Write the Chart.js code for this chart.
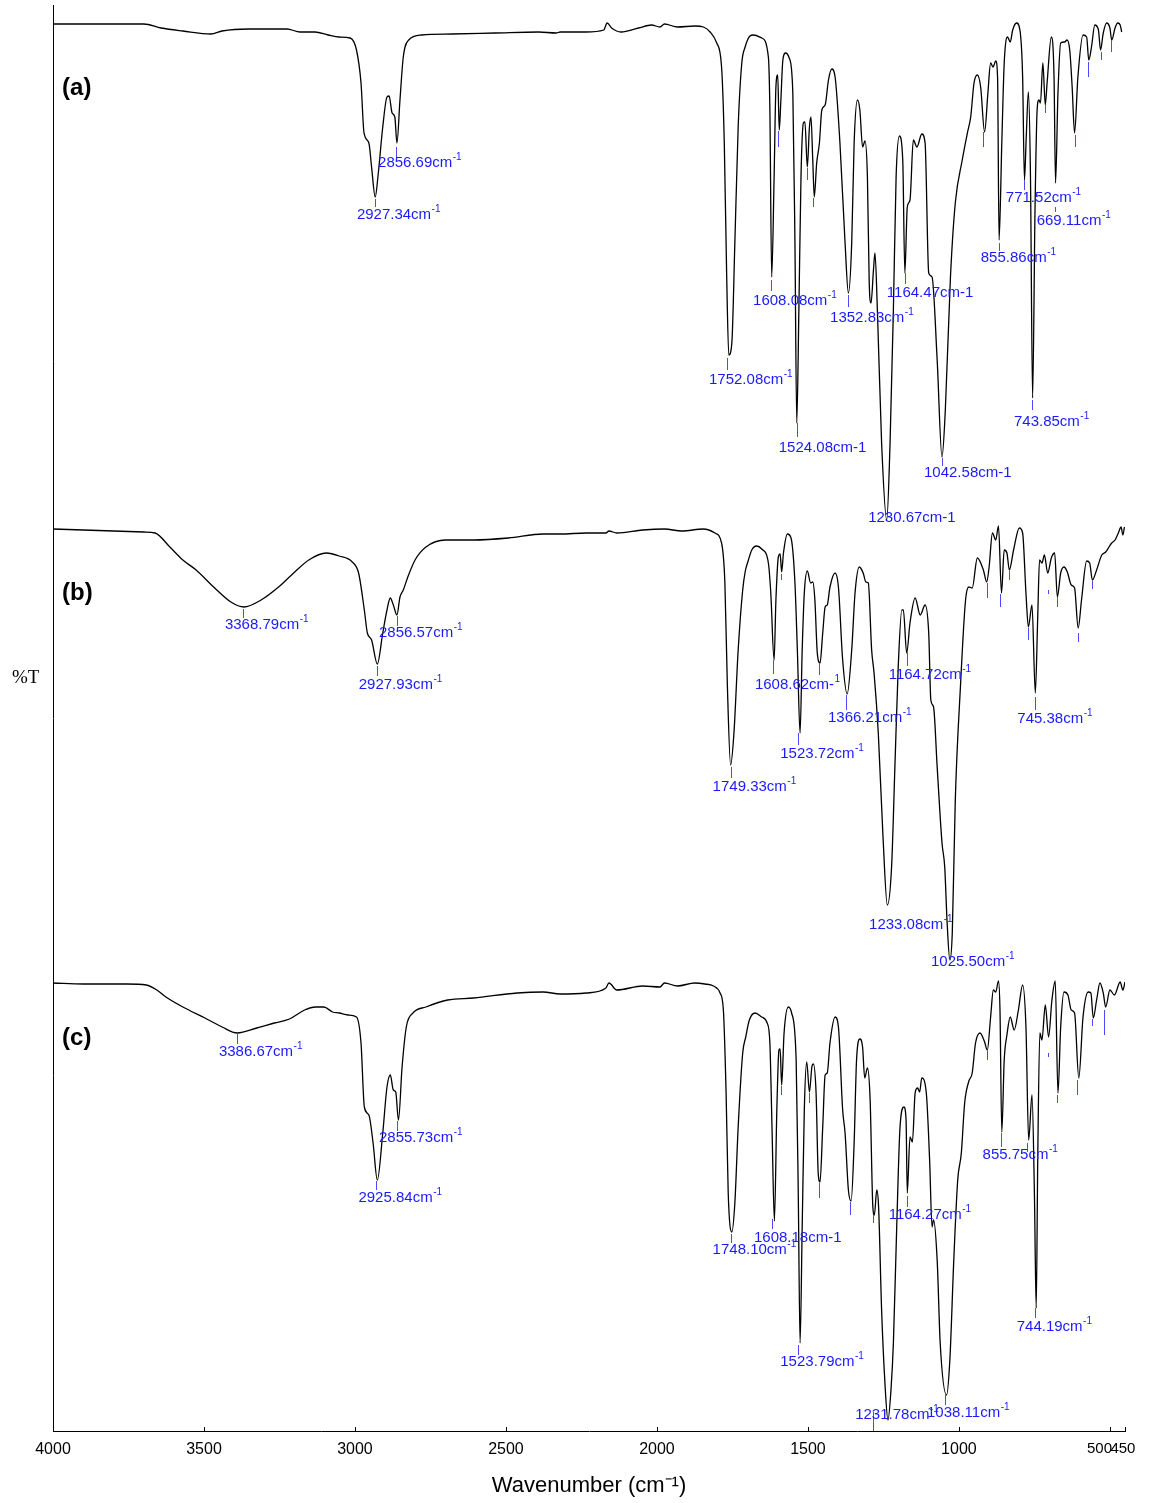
<!DOCTYPE html>
<html>
<head>
<meta charset="utf-8">
<title>FTIR spectra (a) (b) (c)</title>
<script src="https://cdn.jsdelivr.net/npm/chart.js@4.4.1/dist/chart.umd.min.js"></script>
<style>
  html, body { margin: 0; padding: 0; background: #fff; }
  #wrap { width: 1152px; height: 1503px; position: relative; }
</style>
</head>
<body>
<div id="wrap"><canvas id="irChart"></canvas></div>
<script>
// x ticks of the wavenumber axis (cm-1)
const xTicks = [4000, 3500, 3000, 2500, 2000, 1500, 1000, 500, 450];

// spectra, [wavenumber, %T], stacked on one offset %T scale (0 - 142.6)
const spectrumA = [
  [4000,140.7],[3699,140.7],[3642,140.3],[3570,140.0],[3477,139.7],[3440,140.0],[3354,140.2],[3225,140.2],[3182,139.9],[3132,139.9],
  [3089,139.6],[3053,139.4],[3016,139.3],[2995,138.1],[2980,134.8],[2970,129.8],[2954,128.8],[2945,126.4],[2933,123.4],[2924,125.4],
  [2908,130.4],[2894,133.4],[2887,133.5],[2877,131.8],[2868,131.4],[2861,128.8],[2851,133.1],[2840,137.4],[2822,139.1],[2779,139.6],
  [2679,139.7],[2536,139.8],[2392,139.9],[2334,139.8],[2320,139.9],[2235,139.9],[2176,140.1],[2165,140.8],[2150,140.3],[2119,139.9],
  [2061,140.3],[2018,140.6],[1990,140.4],[1975,140.7],[1932,140.4],[1874,140.5],[1846,140.4],[1824,139.9],[1802,138.8],[1786,136.4],
  [1777,128.8],[1769,115.4],[1762,107.6],[1752,108.8],[1742,118.8],[1731,130.4],[1719,136.8],[1708,138.4],[1692,139.5],[1681,139.6],
  [1653,139.3],[1631,137.4],[1626,132.1],[1620,115.4],[1612,125.4],[1606,134.4],[1600,135.6],[1595,130.1],[1590,132.8],[1583,137.1],
  [1574,137.8],[1562,137.3],[1550,133.8],[1543,118.8],[1537,100.8],[1530,112.1],[1523,125.4],[1515,130.8],[1510,130.9],[1502,126.4],
  [1495,130.4],[1490,131.4],[1484,127.1],[1479,123.4],[1471,126.8],[1462,128.8],[1454,132.1],[1443,132.6],[1432,135.1],[1421,136.2],
  [1410,135.4],[1394,128.8],[1377,118.8],[1366,113.8],[1355,118.8],[1347,128.8],[1336,133.1],[1328,132.1],[1319,128.4],[1311,129.0],
  [1303,125.4],[1297,114.8],[1291,112.8],[1283,116.1],[1278,117.8],[1270,112.1],[1256,98.8],[1239,91.1],[1228,98.8],[1217,112.1],
  [1208,125.4],[1197,129.5],[1186,127.1],[1179,115.8],[1171,122.4],[1162,123.1],[1151,129.1],[1139,128.4],[1123,129.7],[1112,128.8],
  [1100,115.8],[1089,115.4],[1072,107.1],[1056,97.4],[1045,102.1],[1028,115.4],[1012,122.8],[989,127.1],[972,129.8],[961,131.4],
  [950,134.8],[939,135.6],[928,134.4],[915,129.9],[904,133.8],[895,136.8],[887,136.4],[878,137.0],[872,135.4],[867,119.1],
  [858,128.8],[850,136.8],[839,139.4],[830,138.9],[822,140.1],[809,140.8],[798,140.1],[789,135.4],[783,125.1],[777,129.4],
  [770,133.9],[763,125.4],[756,103.3],[748,122.1],[741,132.1],[735,133.1],[730,132.8],[722,136.8],[714,132.6],[708,134.8],
  [694,139.4],[685,135.4],[680,124.8],[672,133.8],[663,138.8],[650,138.9],[642,139.1],[633,138.1],[625,134.4],[617,129.8],
  [606,135.4],[589,139.6],[577,139.4],[570,137.1],[561,138.4],[550,140.6],[538,140.1],[531,138.1],[522,139.8],[511,140.8],
  [500,140.3],[494,139.1],[483,140.3],[474,140.8],[466,140.6],[461,139.9]
];

const spectrumB = [
  [4000,90.2],[3699,89.9],[3662,89.8],[3613,88.4],[3570,87.1],[3526,86.1],[3468,84.4],[3411,82.9],[3368,82.4],[3311,83.1],
  [3253,84.4],[3210,85.6],[3153,87.1],[3095,87.8],[3052,87.5],[3009,86.9],[2988,85.8],[2969,82.1],[2959,79.8],[2945,79.1],
  [2926,76.7],[2908,79.8],[2894,82.1],[2883,83.3],[2873,82.6],[2861,81.6],[2851,83.4],[2840,84.1],[2825,85.4],[2801,87.1],
  [2765,88.4],[2700,89.1],[2607,89.1],[2492,89.3],[2377,89.7],[2320,89.7],[2234,89.8],[2169,89.8],[2159,90.0],[2133,89.8],
  [2047,90.1],[1975,90.2],[1918,90.0],[1846,90.2],[1808,89.8],[1786,88.8],[1775,84.8],[1767,74.8],[1756,66.6],[1745,69.8],
  [1731,78.1],[1716,84.1],[1708,85.9],[1697,87.1],[1686,88.1],[1670,88.5],[1653,88.2],[1631,86.8],[1623,83.8],[1612,77.1],
  [1606,83.1],[1598,87.4],[1592,87.7],[1587,85.9],[1581,87.8],[1568,89.7],[1556,89.3],[1543,84.8],[1535,78.1],[1526,69.8],
  [1519,78.1],[1512,83.8],[1502,86.0],[1491,84.8],[1484,84.9],[1477,83.1],[1469,77.8],[1460,76.8],[1451,79.8],[1443,82.4],
  [1436,82.6],[1427,84.4],[1410,85.8],[1399,84.4],[1385,77.1],[1370,73.7],[1355,78.1],[1344,83.8],[1330,86.4],[1317,85.8],
  [1308,84.9],[1300,84.8],[1289,78.1],[1281,75.8],[1267,69.8],[1252,59.8],[1237,52.6],[1223,56.4],[1212,66.4],[1201,76.4],
  [1189,82.1],[1184,82.1],[1173,77.8],[1162,80.8],[1145,83.3],[1128,81.6],[1112,82.6],[1100,79.8],[1093,73.1],[1084,72.4],
  [1072,66.4],[1056,58.8],[1047,56.4],[1039,50.8],[1030,47.1],[1022,49.8],[1012,63.1],[995,74.4],[978,83.1],[967,84.4],
  [956,84.3],[939,87.3],[919,86.1],[908,84.9],[900,86.4],[889,89.8],[878,89.1],[869,90.5],[859,83.8],[850,88.1],
  [841,87.8],[833,86.1],[819,88.1],[800,90.3],[789,89.8],[778,83.8],[770,80.4],[758,82.6],[747,73.8],[739,81.4],
  [733,87.1],[725,86.8],[717,87.6],[706,85.8],[694,87.3],[683,87.8],[674,83.4],[663,85.8],[652,86.4],[641,85.9],
  [628,84.6],[617,84.3],[605,80.3],[594,83.1],[577,87.0],[567,86.8],[558,85.1],[544,86.1],[527,87.6],[514,87.9],
  [503,88.4],[494,88.8],[483,89.1],[472,89.8],[463,90.4],[457,89.6],[452,90.4]
];

const spectrumC = [
  [4000,44.8],[3899,44.7],[3756,44.7],[3691,44.6],[3656,44.1],[3626,43.4],[3570,42.4],[3497,41.3],[3440,40.4],[3390,39.8],
  [3325,40.3],[3267,40.8],[3217,41.2],[3167,42.1],[3131,42.4],[3103,42.4],[3074,41.9],[3052,41.8],[3023,41.6],[2995,41.4],
  [2980,38.8],[2969,32.4],[2954,31.6],[2940,28.8],[2926,25.1],[2908,29.8],[2894,34.4],[2883,35.6],[2873,34.1],[2865,33.9],
  [2856,31.1],[2844,36.4],[2830,40.4],[2808,41.8],[2765,42.4],[2693,43.1],[2607,43.3],[2463,43.8],[2377,43.9],[2320,43.7],
  [2234,43.8],[2169,44.3],[2159,44.8],[2133,44.1],[2047,44.5],[1990,44.4],[1975,44.8],[1932,44.5],[1875,44.8],[1841,44.7],
  [1813,44.5],[1791,43.8],[1780,42.1],[1771,33.8],[1764,23.8],[1752,19.9],[1742,22.8],[1731,30.4],[1716,37.8],[1706,39.4],
  [1694,41.1],[1675,41.8],[1653,41.4],[1635,40.8],[1626,38.8],[1619,30.4],[1611,21.0],[1603,32.1],[1596,38.1],[1592,38.2],
  [1587,34.6],[1579,39.8],[1565,42.4],[1554,41.8],[1539,37.1],[1532,23.8],[1526,8.8],[1519,20.4],[1512,32.1],[1504,36.9],
  [1495,33.9],[1487,36.4],[1482,36.7],[1473,33.8],[1466,25.8],[1460,24.9],[1451,30.4],[1443,35.6],[1436,35.8],[1427,38.8],
  [1410,41.4],[1399,40.4],[1385,32.1],[1377,29.8],[1366,24.1],[1357,23.0],[1347,28.8],[1339,37.1],[1328,39.2],[1319,38.4],
  [1312,35.3],[1303,36.3],[1294,33.1],[1285,22.4],[1280,21.6],[1272,24.1],[1266,22.4],[1256,12.1],[1245,4.8],[1235,1.1],
  [1225,4.1],[1217,8.8],[1206,20.4],[1195,30.4],[1182,32.4],[1175,31.1],[1171,23.8],[1162,29.4],[1154,28.9],[1145,33.8],
  [1137,34.3],[1130,33.9],[1123,35.3],[1108,33.8],[1097,27.1],[1089,20.4],[1084,21.1],[1072,17.1],[1062,8.8],[1041,3.6],
  [1030,7.1],[1017,17.1],[1004,25.1],[992,27.8],[981,32.8],[967,35.0],[956,35.8],[945,38.8],[930,39.8],[915,38.9],
  [906,38.1],[895,41.4],[886,44.1],[878,43.9],[869,45.0],[864,42.1],[858,29.9],[850,37.1],[841,39.6],[830,41.4],
  [817,40.1],[803,42.1],[789,44.6],[778,40.4],[769,29.1],[758,33.6],[750,23.8],[744,12.3],[739,27.1],[732,39.8],
  [725,39.1],[714,42.6],[703,39.4],[692,43.1],[681,45.0],[672,33.8],[663,40.4],[652,43.9],[639,43.6],[628,42.1],
  [617,41.8],[603,35.3],[589,41.4],[572,43.9],[563,43.8],[555,41.3],[544,43.1],[533,44.8],[522,43.8],[514,42.4],
  [500,44.1],[485,43.6],[466,44.9],[457,44.1],[450,44.9]
];

// peak labels: [tick wavenumber, tick top, tick bottom, text, superscript, text centre]
const labelsA = [
  [2864, 128.4, 127.3, '2856.69cm', '-1', 126.8],
  [2934, 123.2, 122.4, '2927.34cm', '-1', 121.6],
  [1768, 107.3, 106.1, '1752.08cm', '-1', 105.1],
  [1622, 115.1, 114.0, '1608.08cm', '-1', 113.0],
  [1537, 100.8, 99.4, '1524.08cm-1', '', 98.3],
  [1367, 113.6, 112.4, '1352.83cm', '-1', 111.3],
  [1179, 115.8, 114.7, '1164.47cm-1', '', 113.8],
  [1241, null, null, '1230.67cm-1', '', 91.3],
  [1056, 97.3, 96.5, '1042.58cm-1', '', 95.8],
  [868, 118.8, 118.0, '855.86cm', '-1', 117.3],
  [785, 125.1, 124.1, '771.52cm', '-1', 123.3],
  [683, 122.4, 121.9, '669.11cm', '-1', 121.0],
  [758, 103.1, 102.1, '743.85cm', '-1', 100.9]
];
const labelsB = [
  [3371, 82.2, 81.3, '3368.79cm', '-1', 80.6],
  [2861, 81.5, 80.5, '2856.57cm', '-1', 79.8],
  [2928, 76.5, 75.5, '2927.93cm', '-1', 74.6],
  [1756, 66.4, 65.3, '1749.33cm', '-1', 64.4],
  [1616, 77.1, 75.7, '1608.62cm-', '1', 74.6],
  [1532, 69.8, 68.6, '1523.72cm', '-1', 67.7],
  [1374, 73.6, 72.1, '1366.21cm', '-1', 71.3],
  [1173, 77.9, 76.5, '1164.72cm', '-1', 75.6],
  [1238, null, null, '1233.08cm', '-1', 50.6],
  [1033, null, null, '1025.50cm', '-1', 46.9],
  [747, 73.4, 72.1, '745.38cm', '-1', 71.2]
];
const labelsC = [
  [3391, 39.7, 38.7, '3386.67cm', '-1', 37.9],
  [2861, 31.0, 30.0, '2855.73cm', '-1', 29.3],
  [2929, 25.0, 24.1, '2925.84cm', '-1', 23.3],
  [1756, 19.7, 18.8, '1748.10cm', '-1', 18.1],
  [1619, 21.2, 20.2, '1608.18cm-1', '', 19.3],
  [1532, 8.6, 7.6, '1523.79cm', '-1', 6.9],
  [1284, 1.9, 0, '1231.78cm', '-1', 1.6],
  [1173, 23.5, 22.4, '1164.27cm', '-1', 21.6],
  [1046, 3.6, 2.6, '1038.11cm', '-1', 1.8],
  [862, 29.8, 28.4, '855.75cm', '-1', 27.6],
  [749, 12.3, 11.3, '744.19cm', '-1', 10.4]
];

// small unlabelled peak marks: [wavenumber, top, bottom]
const marksA = [[1598,130.0,128.4],[1504,126.3,125.1],[1482,123.3,122.4],[919,129.9,128.4],[714,132.6,131.8],
  [617,129.6,128.4],[572,136.9,135.4],[531,137.9,137.1],[496,139.1,137.9]];
const marksB = [[1590,85.7,85.1],[1462,76.8,75.6],[908,84.8,83.3],[864,83.7,82.4],[833,86.0,85.1],
  [772,80.3,79.1],[706,84.1,83.7],[674,83.4,82.4],[606,79.8,78.9],[558,85.0,84.2]];
const marksC = [[1590,34.5,33.6],[1496,33.8,32.8],[1463,24.8,23.3],[1361,22.9,21.6],[1285,21.6,20.8],
  [908,38.1,37.1],[774,28.8,27.9],[706,37.8,37.4],[674,33.6,32.8],[608,35.1,33.6],[559,41.2,40.5],[521,42.1,39.6]];

// panel letters: [text, wavenumber of left edge, centre]
const panelNames = [['(a)', 3970, 134.3], ['(b)', 3970, 83.8], ['(c)', 3970, 39.3]];

const SANS = '"Liberation Sans", Arial, Helvetica, sans-serif';
const BLUE = '#1a1aff';
Chart.defaults.font.family = SANS;
Chart.defaults.color = '#000';

function toPoints(arr) {
  return arr.map(p => ({ x: p[0], y: p[1] }));
}

function spectrumDataset(arr) {
  return {
    data: toPoints(arr),
    borderColor: '#000',
    borderWidth: 1.3,
    pointRadius: 0,
    fill: false,
    cubicInterpolationMode: 'monotone'
  };
}

// draws inward axis ticks, peak ticks, peak labels, panel letters and the %T caption
const peakPlugin = {
  id: 'peakLabels',
  afterDatasetsDraw(chart) {
    const ctx = chart.ctx;
    const xs = chart.scales.x;
    const ys = chart.scales.y;
    ctx.save();

    // x axis ticks point into the plot
    ctx.strokeStyle = '#000';
    ctx.lineWidth = 1;
    xs.ticks.forEach(t => {
      const x = Math.round(xs.getPixelForValue(t.value)) + 0.5;
      ctx.beginPath();
      ctx.moveTo(x, xs.top);
      ctx.lineTo(x, xs.top - 4);
      ctx.stroke();
    });

    ctx.strokeStyle = '#4a4aff';
    [...marksA, ...marksB, ...marksC].forEach(m => {
      const x = Math.round(xs.getPixelForValue(m[0])) + 0.5;
      ctx.beginPath();
      ctx.moveTo(x, ys.getPixelForValue(m[1]));
      ctx.lineTo(x, ys.getPixelForValue(m[2]));
      ctx.stroke();
    });

    [...labelsA, ...labelsB, ...labelsC].forEach(l => {
      const [w, top, bottom, text, sup, ty] = l;
      const x = xs.getPixelForValue(w);
      if (top !== null) {
        const xr = Math.round(x) + 0.5;
        ctx.beginPath();
        ctx.moveTo(xr, ys.getPixelForValue(top));
        ctx.lineTo(xr, ys.getPixelForValue(bottom));
        ctx.stroke();
      }
      const tx = x - 18;
      const y = ys.getPixelForValue(ty);
      ctx.fillStyle = BLUE;
      ctx.textBaseline = 'middle';
      ctx.textAlign = 'left';
      ctx.font = '15px ' + SANS;
      ctx.fillText(text, tx, y);
      if (sup) {
        const wText = ctx.measureText(text).width;
        ctx.font = '10px ' + SANS;
        ctx.fillText(sup, tx + wText + 0.5, y - 6);
      }
    });

    ctx.fillStyle = '#000';
    ctx.font = 'bold 24px ' + SANS;
    ctx.textBaseline = 'middle';
    panelNames.forEach(p => {
      ctx.fillText(p[0], xs.getPixelForValue(p[1]), ys.getPixelForValue(p[2]));
    });

    ctx.font = '19px "Liberation Serif", "Times New Roman", serif';
    ctx.fillText('%T', chart.chartArea.left - 41, ys.getPixelForValue(75.3));
    ctx.restore();
  }
};

const ctx = document.getElementById('irChart').getContext('2d');
new Chart(ctx, {
  type: 'line',
  data: {
    datasets: [spectrumDataset(spectrumA), spectrumDataset(spectrumB), spectrumDataset(spectrumC)]
  },
  options: {
    responsive: true,
    maintainAspectRatio: false,
    animation: false,
    events: [],
    layout: { padding: { top: 5, right: 27, left: 0, bottom: 0 } },
    plugins: {
      legend: { display: false },
      tooltip: { enabled: false }
    },
    scales: {
      x: {
        type: 'linear',
        reverse: true,
        min: 450,
        max: 4000,
        afterBuildTicks: s => { s.ticks = xTicks.map(v => ({ value: v })); },
        afterFit: s => { s.height = 72; },
        ticks: {
          autoSkip: false,
          maxRotation: 0,
          padding: 9,
          color: '#000',
          font: c => ({ size: c.tick && c.tick.value < 1000 ? 15 : 16 }),
          // the two last labels sit pushed apart in the original
          callback: v => (v === 500 ? '500     ' : v === 450 ? '450 ' : String(v))
        },
        grid: { drawOnChartArea: false, drawTicks: false, color: '#000' },
        border: { color: '#000', width: 1 },
        title: {
          display: true,
          text: 'Wavenumber (cm\u207B\u00B9)',
          color: '#000',
          font: { size: 22 },
          padding: { top: 4, bottom: 4 }
        }
      },
      y: {
        min: 0,
        max: 142.6,
        afterFit: s => { s.width = 53; },
        ticks: { display: false },
        grid: { display: true, drawOnChartArea: false, drawTicks: false },
        border: { color: '#000', width: 1 }
      }
    }
  },
  plugins: [peakPlugin]
});
</script>
</body>
</html>
